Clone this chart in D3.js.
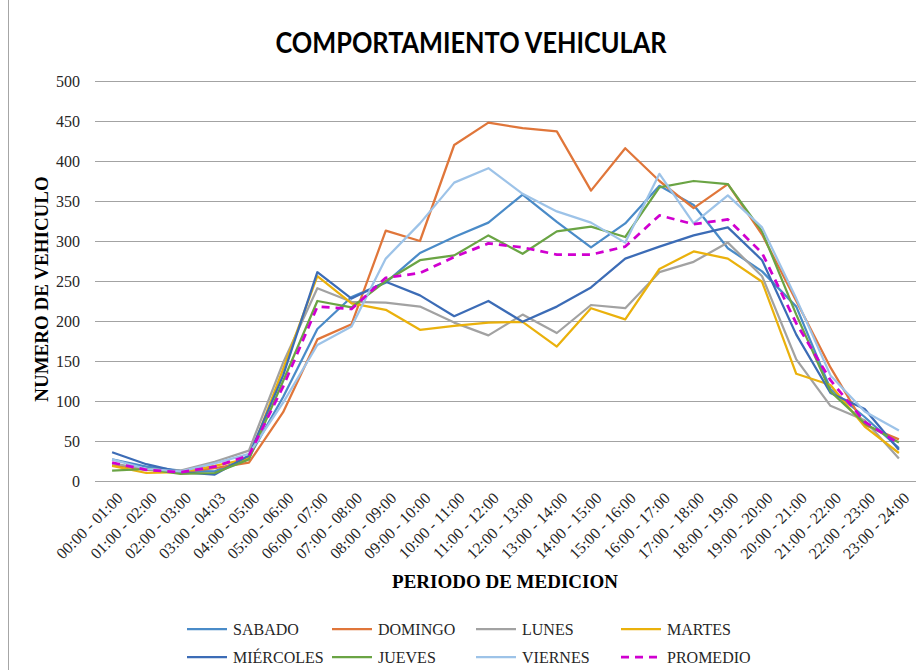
<!DOCTYPE html>
<html>
<head>
<meta charset="utf-8">
<script src="https://cdn.jsdelivr.net/npm/d3@7"></script>
<style>
  body { margin: 0; background: #fff; }
  svg { display: block; }
</style>
</head>
<body>
<svg id="chart" width="920" height="670"></svg>
<script>
// Hour periods on the x axis
const periodos = [
  "00:00 - 01:00", "01:00 - 02:00", "02:00 - 03:00", "03:00 - 04:03",
  "04:00 - 05:00", "05:00 - 06:00", "06:00 - 07:00", "07:00 - 08:00",
  "08:00 - 09:00", "09:00 - 10:00", "10:00 - 11:00", "11:00 - 12:00",
  "12:00 - 13:00", "13:00 - 14:00", "14:00 - 15:00", "15:00 - 16:00",
  "16:00 - 17:00", "17:00 - 18:00", "18:00 - 19:00", "19:00 - 20:00",
  "20:00 - 21:00", "21:00 - 22:00", "22:00 - 23:00", "23:00 - 24:00",
];

// Vehicle counts per day
const sabado = [27, 18, 13, 12, 30, 105, 190, 230, 248, 285, 305, 323, 358, 324, 292, 322, 369, 345, 291, 262, 218, 115, 80, 41];
const domingo = [20, 14, 11, 16, 23, 86, 177, 196, 313, 300, 420, 448, 441, 437, 363, 416, 375, 341, 371, 308, 225, 142, 70, 52];
const lunes = [22, 15, 13, 24, 38, 148, 241, 224, 223, 218, 198, 182, 208, 185, 220, 216, 261, 274, 298, 256, 152, 94, 76, 28];
const martes = [19, 10, 11, 19, 28, 140, 256, 222, 214, 189, 194, 198, 199, 168, 216, 202, 265, 287, 278, 249, 134, 120, 68, 35];
const miercoles = [36, 21, 11, 8, 32, 132, 261, 228, 249, 232, 206, 225, 199, 218, 242, 278, 293, 307, 317, 276, 183, 110, 90, 39];
const jueves = [13, 15, 9, 10, 27, 125, 225, 217, 250, 276, 282, 307, 284, 312, 318, 305, 367, 375, 371, 312, 208, 112, 72, 48];
const viernes = [27, 15, 12, 22, 34, 98, 170, 193, 278, 322, 373, 391, 359, 337, 323, 298, 384, 322, 357, 317, 228, 132, 87, 63];
const promedio = [23, 14, 11, 18, 32, 118, 218, 215, 254, 260, 280, 297, 292, 283, 283, 293, 332, 321, 327, 285, 197, 126, 74, 47];

const yTicks = [0, 50, 100, 150, 200, 250, 300, 350, 400, 450, 500];

const series = [
  { name: "SABADO", values: sabado, color: "#4a8bc8" },
  { name: "DOMINGO", values: domingo, color: "#e0763a" },
  { name: "LUNES", values: lunes, color: "#a2a2a2" },
  { name: "MARTES", values: martes, color: "#eab10c" },
  { name: "MIÉRCOLES", values: miercoles, color: "#3c6cb6" },
  { name: "JUEVES", values: jueves, color: "#6aa444" },
  { name: "VIERNES", values: viernes, color: "#9dc3e8" },
  { name: "PROMEDIO", values: promedio, color: "#d000d0", dashed: true },
];

const svg = d3.select("#chart");
const margin = { left: 95, right: 4, top: 81, bottom: 189 };
const width = +svg.attr("width");
const height = +svg.attr("height");

const serif = "'Liberation Serif', 'Times New Roman', serif";

// chart border (only left edge shows)
svg.append("line")
  .attr("x1", 8.5).attr("x2", 8.5)
  .attr("y1", 0).attr("y2", height)
  .attr("stroke", "#a6a6a6");

const x = d3.scalePoint()
  .domain(periodos)
  .range([margin.left, width - margin.right])
  .padding(0.5);

const y = d3.scaleLinear()
  .domain([0, 500])
  .range([height - margin.bottom, margin.top]);

// Gridlines
svg.append("g")
  .attr("transform", `translate(${margin.left},0)`)
  .call(d3.axisLeft(y).tickValues(yTicks).tickSize(-(width - margin.right - margin.left)).tickFormat(""))
  .call((g) => g.select(".domain").remove())
  .call((g) => g.selectAll(".tick line").attr("stroke", "#a3a3a3").attr("stroke-width", 1));

// Y axis labels
svg.append("g")
  .attr("transform", `translate(${margin.left},0)`)
  .call(d3.axisLeft(y).tickValues(yTicks).tickSize(0).tickPadding(15))
  .call((g) => g.select(".domain").remove())
  .call((g) => g.selectAll("text")
    .attr("font-family", serif)
    .attr("font-size", 16)
    .attr("fill", "#262626"));

// X axis labels
svg.append("g")
  .attr("transform", `translate(0,${height - margin.bottom})`)
  .call(d3.axisBottom(x).tickSize(0))
  .call((g) => g.select(".domain").remove())
  .call((g) => g.selectAll("text")
    .attr("font-family", serif)
    .attr("font-size", 16)
    .attr("fill", "#262626")
    .attr("text-anchor", "end")
    .attr("dy", "0.35em")
    .attr("transform", "translate(5,12) rotate(-45)"));

// Lines
const line = d3.line()
  .x((d, i) => x(periodos[i]))
  .y((d) => y(d));

svg.append("g")
  .selectAll("path")
  .data(series)
  .join("path")
  .attr("fill", "none")
  .attr("stroke", (d) => d.color)
  .attr("stroke-width", (d) => (d.dashed ? 2.75 : 2.25))
  .attr("stroke-dasharray", (d) => (d.dashed ? "8,6" : null))
  .attr("stroke-linejoin", "round")
  .attr("d", (d) => line(d.values));

// Title
svg.append("text")
  .attr("x", 471)
  .attr("y", 53)
  .attr("text-anchor", "middle")
  .attr("font-family", "Lato, 'Open Sans', sans-serif")
  .attr("font-weight", "bold")
  .attr("font-size", 28)
  .attr("textLength", 391)
  .attr("lengthAdjust", "spacingAndGlyphs")
  .text("COMPORTAMIENTO VEHICULAR");

// Axis titles
svg.append("text")
  .attr("transform", "translate(48,289) rotate(-90)")
  .attr("text-anchor", "middle")
  .attr("font-family", serif)
  .attr("font-weight", "bold")
  .attr("font-size", 19)
  .text("NUMERO DE VEHICULO");

svg.append("text")
  .attr("x", 505)
  .attr("y", 588)
  .attr("text-anchor", "middle")
  .attr("font-family", serif)
  .attr("font-weight", "bold")
  .attr("font-size", 19)
  .text("PERIODO DE MEDICION");

// Legend, 4 columns x 2 rows
const legendCols = [233, 378, 522, 667];
const legendRows = [629, 657];

const legend = svg.append("g")
  .selectAll("g")
  .data(series)
  .join("g")
  .attr("transform", (d, i) => `translate(${legendCols[i % 4]},${legendRows[Math.floor(i / 4)]})`);

legend.append("line")
  .attr("x1", -46).attr("x2", -6)
  .attr("y1", 0).attr("y2", 0)
  .attr("stroke", (d) => d.color)
  .attr("stroke-width", (d) => (d.dashed ? 2.75 : 2.25))
  .attr("stroke-dasharray", (d) => (d.dashed ? "8,6" : null));

legend.append("text")
  .attr("x", 0)
  .attr("dy", "0.35em")
  .attr("font-family", serif)
  .attr("font-size", 16)
  .attr("fill", "#262626")
  .text((d) => d.name);
</script>
</body>
</html>
